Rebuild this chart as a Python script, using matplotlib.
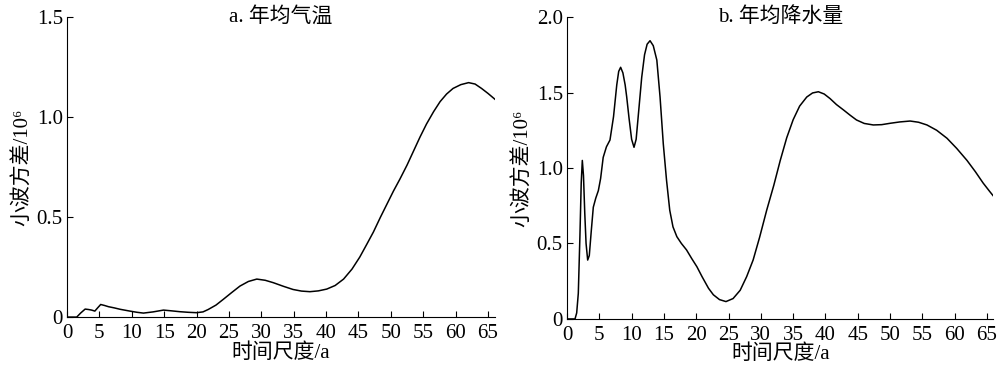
import numpy as np
from matplotlib import pyplot as plt

plt.rcParams['font.family'] = ['Liberation Serif', 'Noto Sans CJK SC', 'DejaVu Sans']

# a. annual mean temperature: wavelet variance
temp_scale = [0, 1.5, 2.1, 2.8, 3.3, 3.8, 4.3, 4.7, 5.2, 5.8, 6.4, 7.3, 8.2, 9.7, 10.8,
              11.8, 13.3, 14.9, 16.2, 17.4, 18.7, 20.0, 21.0, 21.8, 23.0, 24.1, 25.4,
              26.7, 28.0, 29.3, 30.6, 31.85, 33.4, 34.9, 36.2, 37.5, 38.8, 40.1, 41.4,
              42.7, 44.0, 45.2, 46.3, 47.3, 48.4, 49.4, 50.4, 51.4, 52.5, 53.5, 54.5,
              55.5, 56.6, 57.6, 58.6, 59.6, 60.8, 62.0, 63.0, 64.0, 65.0, 66.1]
temp_var = [0, 0, 0.02, 0.04, 0.038, 0.035, 0.03, 0.045, 0.063, 0.058, 0.052, 0.046,
            0.039, 0.03, 0.024, 0.02, 0.026, 0.035, 0.031, 0.027, 0.024, 0.022, 0.026,
            0.038, 0.06, 0.088, 0.122, 0.155, 0.178, 0.19, 0.184, 0.172, 0.154, 0.138,
            0.13, 0.127, 0.131, 0.14, 0.158, 0.19, 0.24, 0.30, 0.365, 0.425, 0.50, 0.565,
            0.63, 0.69, 0.76, 0.83, 0.90, 0.965, 1.027, 1.077, 1.115, 1.143, 1.162,
            1.172, 1.165, 1.143, 1.118, 1.088]

# b. annual precipitation: wavelet variance
prec_scale = [0, 1.24, 1.5, 1.75, 2.0, 2.2, 2.37, 2.55, 2.75, 2.95, 3.2, 3.45, 3.75,
              4.07, 4.45, 4.85, 5.2, 5.6, 6.1, 6.65, 7.2, 7.7, 8.0, 8.3, 8.65, 9.0,
              9.24, 9.6, 10.0, 10.37, 10.7, 11.1, 11.56, 12.0, 12.4, 12.85, 13.35, 13.9,
              14.4, 14.9, 15.4, 15.9, 16.4, 17.0, 17.7, 18.5, 19.3, 20.1, 20.9, 21.9,
              22.65, 23.6, 24.6, 25.7, 26.8, 27.8, 28.8, 29.8, 30.9, 32.0, 33.0, 34.0,
              35.0, 36.0, 37.1, 38.0, 38.9, 39.8, 40.7, 41.7, 42.8, 43.8, 44.8, 46.0,
              47.4, 48.7, 50.0, 51.5, 53.1, 54.4, 55.7, 57.2, 58.8, 60.3, 61.9, 63.2,
              64.4, 65.4, 66.25]
prec_var = [0, 0, 0.04, 0.17, 0.55, 0.9, 1.05, 0.95, 0.7, 0.5, 0.39, 0.42, 0.58,
            0.74, 0.80, 0.85, 0.93, 1.07, 1.14, 1.185, 1.34, 1.55, 1.64, 1.667, 1.63,
            1.55, 1.47, 1.33, 1.19, 1.137, 1.19, 1.38, 1.60, 1.75, 1.82, 1.843, 1.81,
            1.715, 1.47, 1.16, 0.92, 0.72, 0.61, 0.545, 0.50, 0.457, 0.40, 0.346, 0.28,
            0.203, 0.16, 0.128, 0.115, 0.135, 0.19, 0.28, 0.39, 0.54, 0.72, 0.885,
            1.05, 1.20, 1.32, 1.41, 1.47, 1.497, 1.505, 1.49, 1.46, 1.42, 1.384, 1.35,
            1.318, 1.295, 1.285, 1.287, 1.296, 1.305, 1.311, 1.303, 1.285, 1.25, 1.197,
            1.13, 1.05, 0.975, 0.90, 0.845, 0.80]

x_ticks = list(range(0, 70, 5))

fig = plt.figure(figsize=(10, 3.7), dpi=100)
ax1 = fig.add_axes([0.067, 0.143, 0.4275, 0.811])
ax2 = fig.add_axes([0.567, 0.138, 0.4265, 0.816])

panels = [
    (ax1, temp_scale, temp_var, 'a. 年均气温', 1.5, [0, 0.5, 1.0, 1.5], ['0', '0.5', '1.0', '1.5']),
    (ax2, prec_scale, prec_var, 'b. 年均降水量', 2.0, [0, 0.5, 1.0, 1.5, 2.0], ['0', '0.5', '1.0', '1.5', '2.0']),
]

for ax, xs, ys, title, ytop, yt, ytl in panels:
    ax.plot(xs, ys, color='black', lw=1.1, solid_joinstyle='round')
    ax.set_xlim(0, 66)
    ax.set_ylim(0, ytop)
    ax.spines['top'].set_visible(False)
    ax.spines['right'].set_visible(False)
    ax.set_xticks(x_ticks)
    ax.set_yticks(yt)
    ax.set_yticklabels(ytl)
    ax.tick_params(direction='in', length=4, width=0.8, labelsize=15)
    ax.tick_params(axis='x', pad=5)
    ax.tick_params(axis='y', pad=3)
    ax.set_xlabel('时间尺度/a', fontsize=15, labelpad=0)
    ax.set_ylabel('小波方差/10⁶', fontsize=15, labelpad=3)
    ax.text(0.5, 1.0, title, transform=ax.transAxes, ha='center', va='center', fontsize=15)

fig.savefig('out.png', dpi=100)
